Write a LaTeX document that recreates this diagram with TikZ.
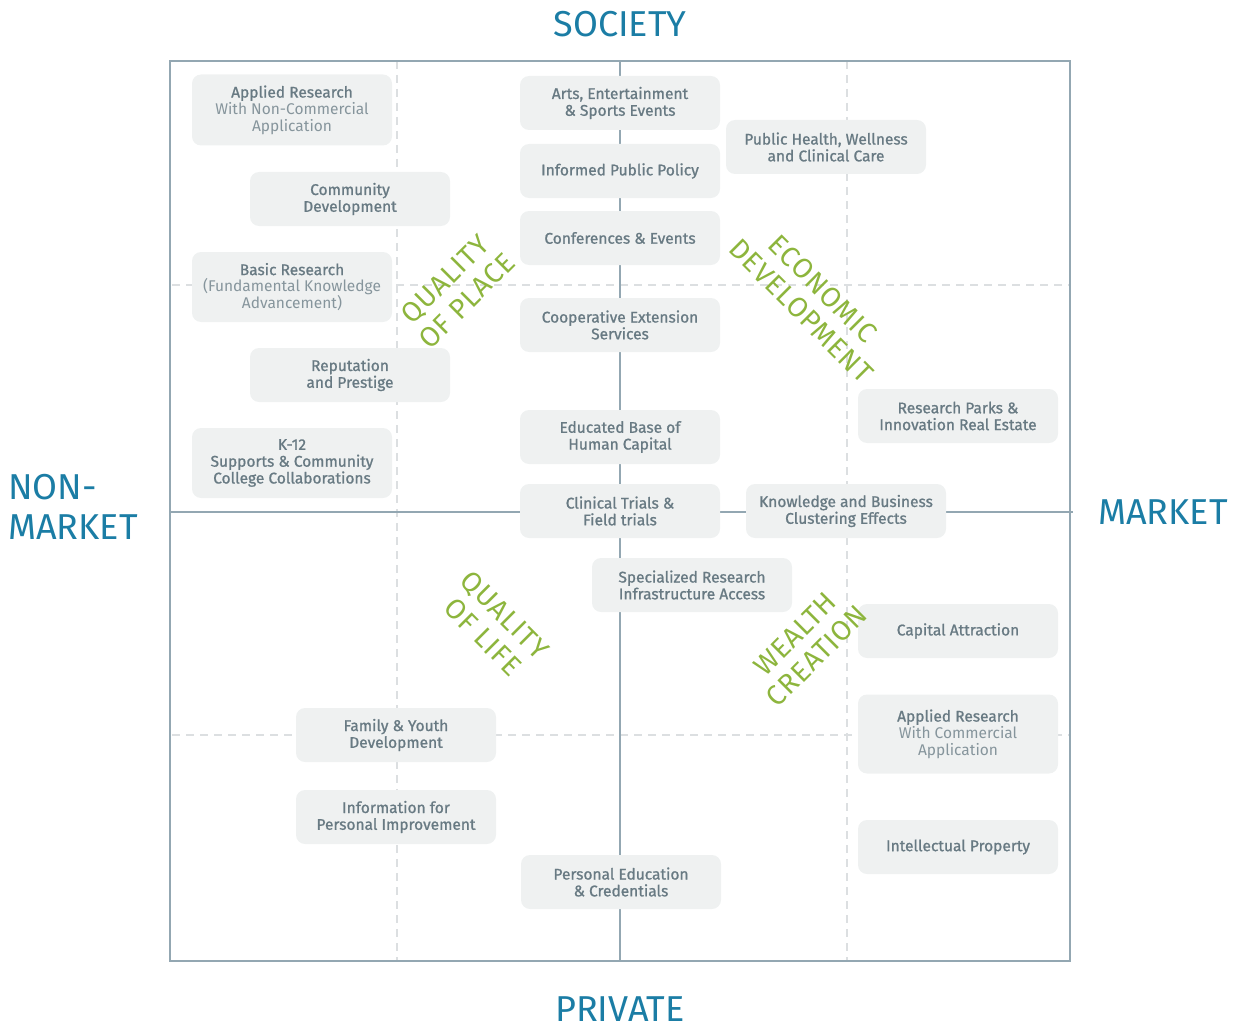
\documentclass[tikz,border=0pt]{standalone}
\usepackage{fontspec}
\setmainfont{Fira Sans}
\newfontfamily\medfont{Fira Sans}[FakeBold=1.0]
\newfontfamily\lightfont{Fira Sans}
\newfontfamily\themefont{Fira Sans}[LetterSpace=3]
\definecolor{frame}{HTML}{93A7B2}
\definecolor{dashc}{HTML}{DCDFE1}
\definecolor{boxfill}{HTML}{EFF1F1}
\definecolor{boxtext}{HTML}{687A83}
\definecolor{lighttext}{HTML}{86959C}
\definecolor{greenc}{HTML}{8DB53D}
\definecolor{bluec}{HTML}{1B7DA5}
\tikzset{
  box/.style={fill=boxfill, rounded corners=9pt, minimum width=200pt, minimum height=54pt,
    align=center, text=boxtext, font=\medfont\fontsize{15.5}{16.8}\selectfont, inner sep=0pt},
  axislabel/.style={text=bluec, font=\fontsize{36}{40}\selectfont, inner sep=0pt},
  theme/.style={text=greenc, font=\themefont\fontsize{28}{31}\selectfont, align=center, inner sep=0pt},
  gridline/.style={draw=dashc, line width=1.5pt, dash pattern=on 8pt off 6pt},
  axisline/.style={draw=frame, line width=2.5pt}
}
\newcommand{\lighttxt}[1]{{\lightfont\color{lighttext}#1}}
\begin{document}
\begin{tikzpicture}[x=1pt,y=-1pt]
\useasboundingbox (0,0) rectangle (1233,1027);
% frame coordinates
\coordinate (tl) at (170,61);
\coordinate (tr) at (1070,61);
\coordinate (bl) at (170,961);
\coordinate (br) at (1070,961);
\coordinate (vt) at (620,61);
\coordinate (vb) at (620,961);
\coordinate (hl) at (170,512);
\coordinate (hr) at (1073,512);
\coordinate (d1t) at (397,61);
\coordinate (d1b) at (397,961);
\coordinate (d2t) at (847,61);
\coordinate (d2b) at (847,961);
\coordinate (d3l) at (172,285);
\coordinate (d3r) at (1070,285);
\coordinate (d4l) at (172,735);
\coordinate (d4r) at (1070,735);
% dashed grid
\draw[gridline] (d1t) -- (d1b);
\draw[gridline] (d2t) -- (d2b);
\draw[gridline] (d3l) -- (d3r);
\draw[gridline] (d4l) -- (d4r);
% frame and axes
\draw[axisline] (tl) rectangle (br);
\draw[axisline] (vt) -- (vb);
\draw[axisline] (hl) -- (hr);
% axis labels
\node[axislabel] (society) at (620,24) {SOCIETY};
\node[axislabel] (private) at (620,1009) {PRIVATE};
\node[axislabel, anchor=west, align=left] (nonmarket) at (8,507) {NON-\\MARKET};
\node[axislabel] (market) at (1163,512) {MARKET};
% boxes left column
\node[box, minimum height=71pt] (appnc) at (292,110) {Applied Research\\\lighttxt{With Non-Commercial}\\\lighttxt{Application}};
\node[box] (comdev) at (350,199) {Community\\Development};
\node[box, minimum height=70pt] (basic) at (292,287) {Basic Research\\\lighttxt{(Fundamental Knowledge}\\\lighttxt{Advancement)}};
\node[box] (rep) at (350,375) {Reputation\\and Prestige};
\node[box, minimum height=70pt] (k12) at (292,463) {K-12\\Supports \& Community\\College Collaborations};
% center column
\node[box] (arts) at (620,103) {Arts, Entertainment\\\& Sports Events};
\node[box] (policy) at (620,171) {Informed Public Policy};
\node[box] (conf) at (620,238) {Conferences \& Events};
\node[box] (coop) at (620,325) {Cooperative Extension\\Services};
\node[box] (edu) at (620,437) {Educated Base of\\Human Capital};
\node[box] (clin) at (620,511) {Clinical Trials \&\\Field trials};
% right side
\node[box] (health) at (826,147) {Public Health, Wellness\\and Clinical Care};
\node[box] (parks) at (958,416) {Research Parks \&\\Innovation Real Estate};
\node[box] (know) at (846,511) {Knowledge and Business\\Clustering Effects};
\node[box] (spec) at (692,585) {Specialized Research\\Infrastructure Access};
\node[box] (capital) at (958,631) {Capital Attraction};
\node[box, minimum height=79pt] (appc) at (958,734) {Applied Research\\\lighttxt{With Commercial}\\\lighttxt{Application}};
\node[box] (ip) at (958,847) {Intellectual Property};
% lower left
\node[box] (family) at (396,735) {Family \& Youth\\Development};
\node[box] (info) at (396,817) {Information for\\Personal Improvement};
\node[box] (pers) at (621,882) {Personal Education\\\& Credentials};
% themes
\node[theme, rotate=45] (qplace) at (456,290) {QUALITY\\OF PLACE};
\node[theme, rotate=-45] (econ) at (812,300) {ECONOMIC\\DEVELOPMENT};
\node[theme, rotate=-45] (qlife) at (494,626) {QUALITY\\OF LIFE};
\node[theme, rotate=45] (wealth) at (806,645) {WEALTH\\CREATION};
\end{tikzpicture}
\end{document}
